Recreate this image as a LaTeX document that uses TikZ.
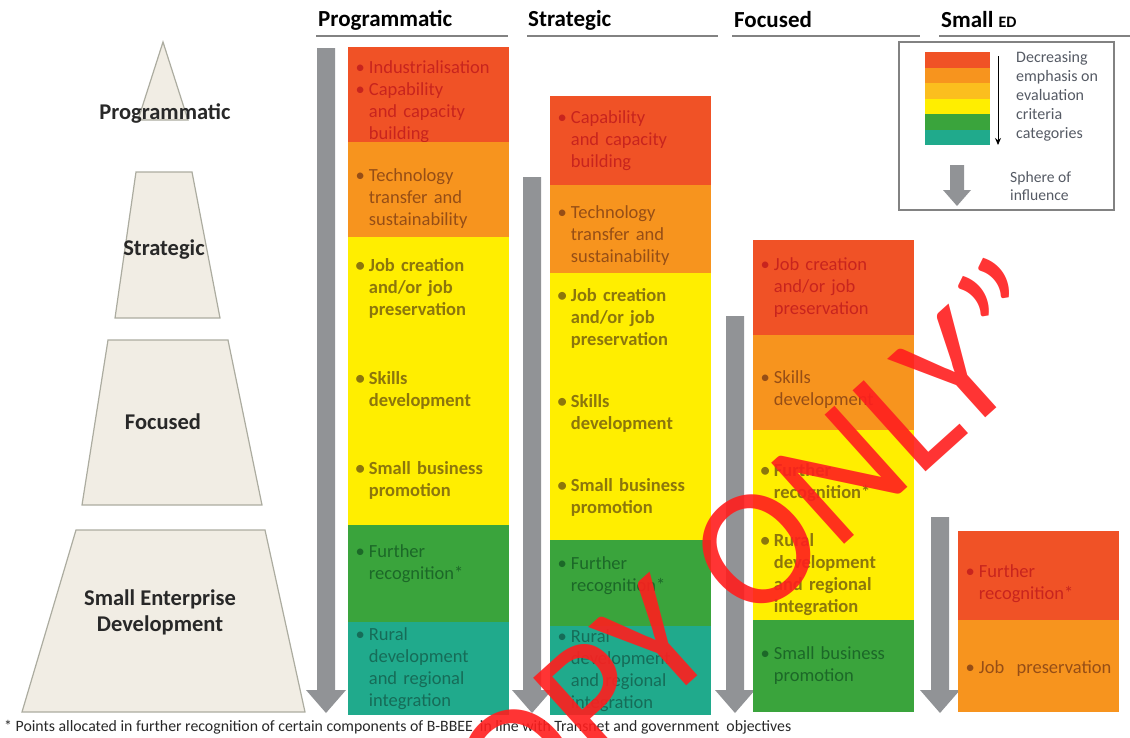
\documentclass[tikz,border=0pt]{standalone}
\usepackage{fontspec}
\setmainfont{Carlito}
\usetikzlibrary{arrows.meta}

\definecolor{segred}{RGB}{240,82,38}
\definecolor{segorange}{RGB}{247,148,30}
\definecolor{legorange}{RGB}{251,190,30}
\definecolor{segyellow}{RGB}{255,238,0}
\definecolor{seggreen}{RGB}{58,164,60}
\definecolor{segteal}{RGB}{32,170,140}
\definecolor{txtred}{RGB}{200,36,30}
\definecolor{txtorange}{RGB}{150,78,22}
\definecolor{txtyellow}{RGB}{140,118,12}
\definecolor{txtgreen}{RGB}{28,104,40}
\definecolor{txtteal}{RGB}{22,108,88}
\definecolor{pyrfill}{RGB}{241,237,228}
\definecolor{pyrline}{RGB}{172,172,160}
\definecolor{pyrtext}{RGB}{40,40,40}
\definecolor{spheregray}{RGB}{145,147,150}
\definecolor{rulegray}{RGB}{130,130,130}
\definecolor{legtext}{RGB}{85,90,100}
\definecolor{wmred}{RGB}{255,30,30}

% bullet list; optional argument moves the lines down by half of it
\newcommand\pts[2][0pt]{\vspace*{-#1}\begin{tabular}{@{}l@{\hspace{4pt}}l@{}}#2\end{tabular}}

\begin{document}
\begin{tikzpicture}[x=1pt, y=-1pt,
    seg/.style ={rectangle, anchor=north west, minimum width=161pt, inner sep=0pt,
                 text width=146pt, align=left, font=\fontsize{18.5}{22}\selectfont},
    bold/.style ={font=\bfseries\fontsize{18.5}{22}\selectfont},
    layer/.style ={fill=pyrfill, draw=pyrline, line width=1.2pt},
    level/.style ={font=\bfseries\fontsize{22.5}{26}\selectfont, text=pyrtext, align=center},
    heading/.style ={anchor=west, inner sep=0pt, font=\bfseries\fontsize{23}{24}\selectfont},
    rule/.style ={draw=rulegray, line width=2.5pt},
    sphere/.style ={fill=spheregray}]

\useasboundingbox (0,0) rectangle (1130,737);

% pyramid on the left
\draw[layer] (163,42) -- (188,120) -- (138,120) -- cycle;
\draw[layer] (136,172) -- (192,172) -- (220,318) -- (115,318) -- cycle;
\draw[layer] (108,340) -- (228,340) -- (262,505) -- (82,505) -- cycle;
\draw[layer] (76,530) -- (265,530) -- (305,712) -- (22,712) -- cycle;
\node[level] (lprog) at (165,113) {Programmatic};
\node[level] (lstrat) at (164,250) {Strategic};
\node[level] (lfoc) at (163,422) {Focused};
\node[level] (lsed) at (160,612) {Small Enterprise\\Development};

% column headings
\node[heading] (hprog) at (318,20) {Programmatic};
\node[heading] (hstrat) at (528,20) {Strategic};
\node[heading] (hfoc) at (734,20) {Focused};
\node[heading] (hsed) at (941,20) {Small {\fontsize{16}{16}\selectfont ED}};
\draw[rule] (316,36) -- (508,36);
\draw[rule] (527,36) -- (718,36);
\draw[rule] (732,36) -- (920,36);
\draw[rule] (939,36) -- (1130,36);

% spheres of influence
\foreach \cx/\ty in {326/48, 532/177, 735/316, 940/517}
  \fill[sphere] (\cx-9,\ty) -- (\cx+9,\ty) -- (\cx+9,690) -- (\cx+20,690)
     -- (\cx,713) -- (\cx-20,690) -- (\cx-9,690) -- cycle;

% programmatic
\node[seg, fill=segred, text=txtred, minimum height=95pt] (prog1) at (348,47)
  {\pts[14pt]{\textbullet & Industrialisation\\ \textbullet & Capability\\ & and capacity\\ & building}};
\node[seg, fill=segorange, text=txtorange, minimum height=95pt] (prog2) at (348,142)
  {\pts[18pt]{\textbullet & Technology\\ & transfer and\\ & sustainability}};
\node[seg, bold, fill=segyellow, text=txtyellow, minimum height=98pt] (prog3) at (348,237)
  {\pts[6pt]{\textbullet & Job creation\\ & and/or job\\ & preservation}};
\node[seg, bold, fill=segyellow, text=txtyellow, minimum height=95pt] (prog4) at (348,335)
  {\pts[16pt]{\textbullet & Skills\\ & development}};
\node[seg, bold, fill=segyellow, text=txtyellow, minimum height=95pt] (prog5) at (348,430)
  {\pts[6pt]{\textbullet & Small business\\ & promotion}};
\node[seg, fill=seggreen, text=txtgreen, minimum height=97pt] (prog6) at (348,525)
  {\pts[-20pt]{\textbullet & Further\\ & recognition*}};
\node[seg, fill=segteal, text=txtteal, minimum height=93pt] (prog7) at (348,622)
  {\pts{\textbullet & Rural\\ & development\\ & and regional\\ & integration}};

% strategic
\node[seg, fill=segred, text=txtred, minimum height=89pt] (strat1) at (550,96)
  {\pts{\textbullet & Capability\\ & and capacity\\ & building}};
\node[seg, fill=segorange, text=txtorange, minimum height=88pt] (strat2) at (550,185)
  {\pts[14pt]{\textbullet & Technology\\ & transfer and\\ & sustainability}};
\node[seg, bold, fill=segyellow, text=txtyellow, minimum height=92pt] (strat3) at (550,273)
  {\pts{\textbullet & Job creation\\ & and/or job\\ & preservation}};
\node[seg, bold, fill=segyellow, text=txtyellow, minimum height=90pt] (strat4) at (550,365)
  {\pts[8pt]{\textbullet & Skills\\ & development}};
\node[seg, bold, fill=segyellow, text=txtyellow, minimum height=85pt] (strat5) at (550,455)
  {\pts{\textbullet & Small business\\ & promotion}};
\node[seg, fill=seggreen, text=txtgreen, minimum height=86pt] (strat6) at (550,540)
  {\pts[-14pt]{\textbullet & Further\\ & recognition*}};
\node[seg, fill=segteal, text=txtteal, minimum height=89pt] (strat7) at (550,626)
  {\pts{\textbullet & Rural\\ & development\\ & and regional\\ & integration}};

% focused
\node[seg, fill=segred, text=txtred, minimum height=95pt] (foc1) at (753,240)
  {\pts{\textbullet & Job creation\\ & and/or job\\ & preservation}};
\node[seg, fill=segorange, text=txtorange, minimum height=95pt] (foc2) at (753,335)
  {\pts[14pt]{\textbullet & Skills\\ & development}};
\node[seg, bold, fill=segyellow, text=txtyellow, minimum height=100pt] (foc3) at (753,430)
  {\pts[6pt]{\textbullet & Further\\ & recognition*}};
\node[seg, bold, fill=segyellow, text=txtyellow, minimum height=90pt] (foc4) at (753,530)
  {\pts{\textbullet & Rural\\ & development\\ & and regional\\ & integration}};
\node[seg, fill=seggreen, text=txtgreen, minimum height=92pt] (foc5) at (753,620)
  {\pts{\textbullet & Small business\\ & promotion}};

% small ED
\node[seg, fill=segred, text=txtred, minimum height=89pt] (sed1) at (958,531)
  {\pts[22pt]{\textbullet & Further\\ & recognition*}};
\node[seg, fill=segorange, text=txtorange, minimum height=92pt] (sed2) at (958,620)
  {\pts[28pt]{\textbullet & Job\ \ preservation}};

% legend
\draw[draw=rulegray, line width=1.5pt] (899,42) rectangle (1114,210);
\foreach \c [count=\i from 0] in {segred,segorange,legorange,segyellow,seggreen,segteal}
  \fill[\c] (925,52+15.5*\i) rectangle (990,67.6+15.5*\i);
\coordinate (ltop) at (998,56);
\coordinate (lbot) at (998,145);
\draw[-{Stealth[length=7pt,width=6pt]}, line width=0.9pt] (ltop) -- (lbot);
\node[anchor=north west, align=left, inner sep=0pt, text=legtext,
      font=\fontsize{16}{19}\selectfont] (ltext) at (1016,51)
  {Decreasing\\emphasis on\\evaluation\\criteria\\categories};
\fill[sphere] (950,165) -- (964,165) -- (964,190) -- (971,190) -- (957,206)
   -- (943,190) -- (950,190) -- cycle;
\node[anchor=west, align=left, inner sep=0pt, text=legtext,
      font=\fontsize{15.6}{18}\selectfont] (lsphere) at (1010,186) {Sphere of\\influence};

% footnote
\node[anchor=west, inner sep=0pt, text=pyrtext, font=\fontsize{15.8}{18}\selectfont] (note) at (4,727)
  {* Points allocated in further recognition of certain components of B-BBEE\ \ in line with Transnet and government\ \ objectives};

% stamp
\begin{scope}
  \clip (0,0) rectangle (1130,737);
  \node[rotate=42, text=wmred, opacity=0.9, font=\fontsize{170}{170}\selectfont] (stamp) at (722,575) {COPY ONLY”};
\end{scope}
\end{tikzpicture}
\end{document}
